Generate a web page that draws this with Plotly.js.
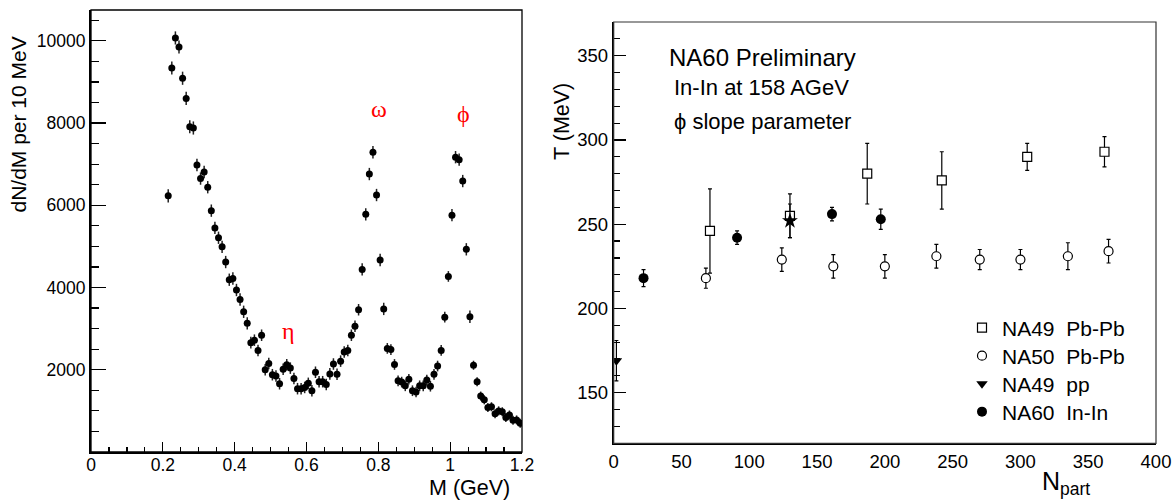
<!DOCTYPE html>
<html>
<head>
<meta charset="utf-8">
<script src="https://cdn.plot.ly/plotly-3.0.1.min.js"></script>
<style>html,body{margin:0;padding:0;background:#fff;}#chart{width:1176px;height:501px;}</style>
</head>
<body>
<div id="chart"></div>
<script>
// ---------- Left panel: dimuon mass spectrum ----------
const massGeV = [0.215,0.225,0.235,0.245,0.255,0.265,0.275,0.285,0.295,0.305,
  0.315,0.325,0.335,0.345,0.355,0.365,0.375,0.385,0.395,0.405,
  0.415,0.425,0.435,0.445,0.455,0.465,0.475,0.485,0.495,0.505,
  0.515,0.525,0.535,0.545,0.555,0.565,0.575,0.585,0.595,0.605,
  0.615,0.625,0.635,0.645,0.655,0.665,0.675,0.685,0.695,0.705,
  0.715,0.725,0.735,0.745,0.755,0.765,0.775,0.785,0.795,0.805,
  0.815,0.825,0.835,0.845,0.855,0.865,0.875,0.885,0.895,0.905,
  0.915,0.925,0.935,0.945,0.955,0.965,0.975,0.985,0.995,1.005,
  1.015,1.025,1.035,1.045,1.055,1.065,1.075,1.085,1.095,1.105,
  1.115,1.125,1.135,1.145,1.155,1.165,1.175,1.185,1.195];
const dNdM = [6230,9340,10070,9850,9090,8600,7910,7880,6980,6650,
  6810,6440,5870,5450,5210,4990,4620,4190,4220,3940,
  3710,3410,3130,2660,2720,2470,2840,2000,2150,1880,
  1850,1660,2010,2120,2040,1790,1540,1540,1570,1670,
  1490,1940,1710,1710,1640,1900,2140,1890,2210,2430,
  2470,2840,3060,3460,4440,5780,6760,7290,6250,4670,
  3480,2520,2490,2130,1730,1700,1610,1770,1490,1460,
  1610,1610,1750,1600,1890,2090,2470,3280,4270,5760,
  7170,7110,6590,4930,3290,2110,1710,1360,1270,1080,
  1100,930,1000,980,840,900,770,780,700];
const dNdMErr = [160,160,160,160,160,160,160,160,150,150,
  150,150,150,150,150,150,150,150,150,150,
  150,150,150,140,140,140,140,140,140,140,
  140,140,140,140,140,140,140,140,140,140,
  140,140,140,140,140,140,140,140,140,140,
  140,140,140,140,150,150,150,150,150,150,
  150,130,130,130,130,130,130,130,130,130,
  130,130,130,130,130,130,130,130,130,150,
  150,150,150,150,150,110,110,110,110,110,
  110,110,110,110,110,110,110,110,110];
const leftYTicks = [2000,4000,6000,8000,10000];

// ---------- Right panel: phi slope parameter vs Npart ----------
const na49PbPbN = [71,130,187,242,305,362];
const na49PbPbT = [246,255,280,276,290,293];
const na49PbPbErr = [25,13,18,17,8,9];

const na50PbPbN = [68,124,162,200,238,270,300,335,365];
const na50PbPbT = [218,229,225,225,231,229,229,231,234];
const na50PbPbErr = [6,7,7,7,7,6,6,8,7];

const na49ppN = [2];
const na49ppT = [169];
const na49ppErr = [12];

const na60InInN = [22,91,161,197];
const na60InInT = [218,242,256,253];
const na60InInErr = [5,4,4,6];

const na60StarN = [130];
const na60StarT = [252];
const na60StarErr = [10];

const legendNames = ['NA49\u00A0\u00A0Pb-Pb','NA50\u00A0\u00A0Pb-Pb','NA49\u00A0\u00A0pp','NA60\u00A0\u00A0In-In'];

const W = 1176, H = 501;
const px = v => v / W;
const py = v => 1 - v / H;
const SANS = 'Liberation Sans, Arial, Helvetica, sans-serif';
const SERIF = 'Liberation Serif, DejaVu Serif, Times New Roman, serif';

const errR = (arr) => ({type:'data', array:arr, visible:true, color:'#000', thickness:1.2, width:2});

const traces = [
  {x:massGeV, y:dNdM, xaxis:'x', yaxis:'y', type:'scatter', mode:'markers', showlegend:false,
   marker:{symbol:'circle', size:7, color:'#000'},
   error_y:{type:'data', array:dNdMErr, visible:true, color:'#222', thickness:1.5, width:0}},
  {x:na49PbPbN, y:na49PbPbT, xaxis:'x2', yaxis:'y2', type:'scatter', mode:'markers', name:legendNames[0], legend:'legend',
   marker:{symbol:'square', size:9, color:'#fff', line:{color:'#000', width:1.2}}, error_y:errR(na49PbPbErr)},
  {x:na50PbPbN, y:na50PbPbT, xaxis:'x2', yaxis:'y2', type:'scatter', mode:'markers', name:legendNames[1], legend:'legend2',
   marker:{symbol:'circle', size:9, color:'#fff', line:{color:'#000', width:1.2}}, error_y:errR(na50PbPbErr)},
  {x:na49ppN, y:na49ppT, xaxis:'x2', yaxis:'y2', type:'scatter', mode:'markers', name:legendNames[2], legend:'legend3',
   marker:{symbol:'triangle-down', size:10, color:'#000'}, error_y:errR(na49ppErr)},
  {x:na60InInN, y:na60InInT, xaxis:'x2', yaxis:'y2', type:'scatter', mode:'markers', name:legendNames[3], legend:'legend4',
   marker:{symbol:'circle', size:10, color:'#000'}, error_y:errR(na60InInErr)},
  {x:na60StarN, y:na60StarT, xaxis:'x2', yaxis:'y2', type:'scatter', mode:'markers', showlegend:false,
   marker:{symbol:'star', size:12, color:'#000'}, error_y:errR(na60StarErr)}
];

const ann = (x, y, text, size, opts={}) => Object.assign({
  xref:'paper', yref:'paper', x:px(x), y:py(y), text:text, showarrow:false,
  xanchor:'center', yanchor:'middle', font:{family:SANS, size:size, color:'#000'}
}, opts);

const leg = (yc) => ({x:px(962), y:py(yc), xanchor:'left', yanchor:'middle', bgcolor:'rgba(0,0,0,0)',
  font:{family:SANS, size:21, color:'#000'}, itemwidth:30});

const layout = {
  width:W, height:H,
  margin:{l:0, r:0, t:0, b:0},
  paper_bgcolor:'#fff', plot_bgcolor:'#fff',
  font:{family:SANS, color:'#000'},
  showlegend:true,
  legend:leg(328), legend2:leg(356), legend3:leg(384), legend4:leg(412),
  xaxis:{domain:[px(91), px(522)], range:[0,1.2], anchor:'y', showgrid:false, zeroline:false,
         showline:true, linecolor:'#000', linewidth:2, ticks:'inside', ticklen:10, tickwidth:1.2, tickcolor:'#000',
         tick0:0, dtick:0.2, tickfont:{size:17.5, family:SANS}, ticklabelstandoff:-4,
         minor:{dtick:0.05, tick0:0, ticks:'inside', ticklen:5, tickwidth:1.2, tickcolor:'#000', showgrid:false}},
  yaxis:{domain:[py(452), py(10)], range:[0,10750], anchor:'x', showgrid:false, zeroline:false,
         showline:true, linecolor:'#000', linewidth:2, ticks:'inside', ticklen:15, tickwidth:1.2, tickcolor:'#000',
         tickmode:'array', tickvals:leftYTicks, ticktext:leftYTicks.map(String), tickfont:{size:17.5, family:SANS},
         minor:{tickmode:'linear', tick0:0, dtick:500, ticks:'inside', ticklen:8, tickwidth:1.2, tickcolor:'#000', showgrid:false}},
  xaxis2:{domain:[px(613.7), px(1156)], range:[0,400], anchor:'y2', showgrid:false, zeroline:false,
          showline:true, linecolor:'#000', linewidth:2, ticks:'', tick0:0, dtick:50,
          tickfont:{size:18.5, family:SANS}},
  yaxis2:{domain:[py(443.3), py(22)], range:[120,370], anchor:'x2', showgrid:false, zeroline:false,
          showline:true, linecolor:'#000', linewidth:2, ticks:'inside', ticklen:12, tickwidth:1.2, tickcolor:'#000',
          tick0:0, dtick:50, tickfont:{size:18.5, family:SANS},
          minor:{tick0:0, dtick:10, ticks:'inside', ticklen:6, tickwidth:1.2, tickcolor:'#000', showgrid:false}},
  shapes:[
    {type:'rect', xref:'x domain', yref:'y domain', x0:0, x1:1, y0:0, y1:1, line:{color:'#000', width:1.3}, layer:'above'},
    {type:'rect', xref:'x2 domain', yref:'y2 domain', x0:0, x1:1, y0:0, y1:1, line:{color:'#333', width:1.2}, layer:'above'}
  ],
  annotations:[
    ann(18, 124.5, 'dN/dM per 10 MeV', 21, {textangle:-90}),
    ann(469, 488, 'M (GeV)', 21.5),
    ann(562, 122, 'T (MeV)', 21.5, {textangle:-90}),
    ann(1066, 483, 'N<sub>part</sub>', 25),
    ann(762, 57.3, 'NA60 Preliminary', 24),
    ann(761, 87.5, 'In-In at 158 AGeV', 22),
    ann(762, 121.5, '\u03D5 slope parameter', 22),
    ann(379, 108.5, '\u03C9', 24, {font:{family:SERIF, size:24, color:'#ff0000'}}),
    ann(463.5, 114.5, '\u03D5', 24, {font:{family:SERIF, size:24, color:'#ff0000'}}),
    ann(288, 331, '\u03B7', 24, {font:{family:SERIF, size:24, color:'#ff0000'}})
  ]
};

Plotly.newPlot('chart', traces, layout, {displayModeBar:false, staticPlot:true});
</script>
</body>
</html>
